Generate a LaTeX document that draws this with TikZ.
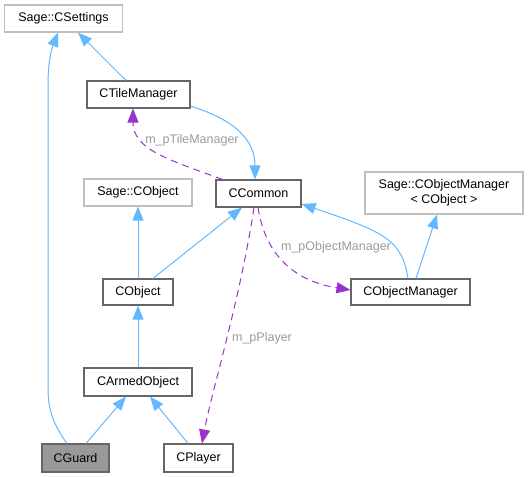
\documentclass[tikz,border=0pt]{standalone}
\usepackage{fontspec}
\setmainfont{Liberation Sans}
\usetikzlibrary{arrows.meta}
\definecolor{inh}{HTML}{63B8FF}
\definecolor{usage}{HTML}{9A32CD}
\definecolor{lbl}{HTML}{9A9A9A}
\definecolor{grayb}{HTML}{BFBFBF}
\definecolor{darkb}{HTML}{666666}
\definecolor{guardfill}{HTML}{999999}
\tikzset{
  cls/.style={draw=darkb, line width=1.1pt, fill=white, inner sep=0pt, font=\fontsize{12.5}{14}\selectfont},
  ext/.style={cls, draw=grayb},
  inhe/.style={draw=inh, line width=1pt, -{Triangle[length=14pt,width=11pt]}},
  use/.style={draw=usage, line width=1pt, dash pattern=on 7pt off 5pt, -{Triangle[length=14pt,width=11pt]}},
  elabel/.style={text=lbl, font=\fontsize{12.5}{14}\selectfont, inner sep=1pt}
}
\begin{document}
\begin{tikzpicture}[x=1pt,y=-1pt]
\useasboundingbox (0,0) rectangle (528,477);
\node[ext, minimum width=118pt, minimum height=27pt] (cs) at (63.5,18.5) {Sage::CSettings};
\node[cls, minimum width=103pt, minimum height=27pt] (tm) at (138.5,94.5) {CTileManager};
\node[cls, minimum width=85pt, minimum height=27pt] (cc) at (258.5,193.5) {CCommon};
\node[ext, minimum width=158pt, minimum height=42pt, align=center] (scom) at (444,193) {Sage::CObjectManager\\[1pt]< CObject >};
\node[cls, minimum width=119pt, minimum height=26pt] (com) at (410.5,292) {CObjectManager};
\node[ext, minimum width=108pt, minimum height=27pt] (sco) at (138,192.5) {Sage::CObject};
\node[cls, minimum width=70pt, minimum height=26pt] (obj) at (138,292) {CObject};
\node[cls, minimum width=108pt, minimum height=28pt] (arm) at (138,382) {CArmedObject};
\node[cls, fill=guardfill, minimum width=67pt, minimum height=28pt] (guard) at (75.5,458) {CGuard};
\node[cls, minimum width=69pt, minimum height=28pt] (pl) at (198.5,458) {CPlayer};

% inheritance
\draw[inhe] ([xshift=-8.5pt]guard.north) .. controls (50,420) and (48,405) .. (48,385) -- (48,85) .. controls (48,60) and (52,48) .. ([xshift=-5.5pt]cs.south);
\draw[inhe] ([xshift=-12.5pt]tm.north) -- ([xshift=14.5pt]cs.south);
\draw[inhe] ([yshift=-11.5pt]tm.east) .. controls (235,120) and (255,140) .. ([xshift=-3.5pt]cc.north);
\draw[inhe] (obj.north) -- (sco.south);
\draw[inhe] ([xshift=15pt]obj.north) -- ([xshift=-16.5pt]cc.south);
\draw[inhe] ([xshift=-2.5pt]com.north) .. controls (402,240) and (385,232) .. ([yshift=-10.5pt]cc.east);
\draw[inhe] ([xshift=5.5pt]com.north) -- ([xshift=-7pt]scom.south);
\draw[inhe] (arm.north) -- (obj.south);
\draw[inhe] ([xshift=10.5pt]guard.north) -- ([xshift=-12pt]arm.south);
\draw[inhe] ([xshift=-10.5pt]pl.north) -- ([xshift=12pt]arm.south);

% usage
\draw[use] ([xshift=-36pt]cc.north) .. controls (170,160) and (133,150) .. ([xshift=-5.5pt]tm.south);
\node[elabel] (l1) at (192,140) {m\_pTileManager};
\draw[use] ([xshift=-0.5pt]cc.south) .. controls (266,260) and (300,282) .. ([yshift=2pt]com.west);
\node[elabel] (l2) at (336,247) {m\_pObjectManager};
\draw[use] ([xshift=-4.5pt]cc.south) .. controls (240,300) and (212,390) .. ([xshift=3.5pt]pl.north);
\node[elabel] (l3) at (262,338) {m\_pPlayer};
\end{tikzpicture}
\end{document}
